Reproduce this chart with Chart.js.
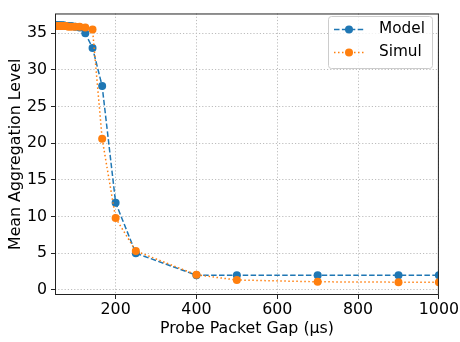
<!DOCTYPE html>
<html>
<head>
<meta charset="utf-8">
<script src="https://cdn.jsdelivr.net/npm/chart.js@4.4.0/dist/chart.umd.min.js"></script>
<style>
  html, body { margin: 0; padding: 0; background: #fff; }
  #wrap { width: 460px; height: 342px; }
</style>
</head>
<body>
<div id="wrap"><canvas id="chart" width="460" height="342"></canvas></div>
<script>
// probe gaps in microseconds
const gaps = [50, 52.6, 55.6, 58.8, 62.5, 66.7, 71.4, 76.9, 83.3, 90.9, 100, 111.1, 125, 142.9, 166.7, 200, 250, 400, 500, 700, 900, 1000];
const model = [36.1, 36.1, 36.1, 36.1, 36.1, 36.1, 36.1, 36.0, 36.0, 36.0, 35.9, 35.8, 35.0, 33.0, 27.8, 11.9, 5.0, 2.0, 2.0, 2.0, 2.0, 2.0];
const simul = [36.0, 36.0, 36.0, 36.0, 36.0, 36.0, 36.0, 36.0, 35.9, 35.9, 35.9, 35.9, 35.8, 35.5, 20.6, 9.8, 5.3, 2.05, 1.35, 1.1, 1.05, 1.05];
const xTicks = [200, 400, 600, 800, 1000];
const yTicks = [0, 5, 10, 15, 20, 25, 30, 35];

const BLUE = '#1f77b4';
const ORANGE = '#ff7f0e';
const FONT = 'DejaVu Sans';
const FS = 15.8;

const toPoints = (ys) => gaps.map((g, i) => ({ x: g, y: ys[i] }));

// frame around the plot area + matplotlib style legend
const framePlugin = {
    id: 'frame',
    afterDraw(chart) {
        const { ctx, chartArea: a } = chart;
        ctx.save();
        ctx.strokeStyle = '#222';
        ctx.lineWidth = 1;
        ctx.strokeRect(a.left + 0.5, a.top + 0.5, a.right - a.left - 1, a.bottom - a.top - 1);

        // legend box
        const bx = 328.5, by = 16.5, bw = 104, bh = 52, r = 3;
        ctx.beginPath();
        ctx.moveTo(bx + r, by);
        ctx.arcTo(bx + bw, by, bx + bw, by + bh, r);
        ctx.arcTo(bx + bw, by + bh, bx, by + bh, r);
        ctx.arcTo(bx, by + bh, bx, by, r);
        ctx.arcTo(bx, by, bx + bw, by, r);
        ctx.closePath();
        ctx.fillStyle = 'rgba(255,255,255,0.8)';
        ctx.fill();
        ctx.strokeStyle = '#cccccc';
        ctx.stroke();

        const entries = [
            { label: 'Model', color: BLUE, dash: [5.5, 2.4], y: 29.5 },
            { label: 'Simul', color: ORANGE, dash: [1.5, 2.5], y: 52.5 }
        ];
        entries.forEach(e => {
            ctx.strokeStyle = e.color;
            ctx.lineWidth = 1.5;
            ctx.setLineDash(e.dash);
            ctx.beginPath();
            ctx.moveTo(334, e.y);
            ctx.lineTo(364, e.y);
            ctx.stroke();
            ctx.setLineDash([]);
            ctx.fillStyle = e.color;
            ctx.beginPath();
            ctx.arc(349, e.y, 4, 0, Math.PI * 2);
            ctx.fill();
            ctx.fillStyle = '#000';
            ctx.font = '15.3px "' + FONT + '"';
            ctx.textBaseline = 'middle';
            ctx.textAlign = 'left';
            ctx.fillText(e.label, 379, e.y);
        });
        ctx.restore();
    }
};

const gridCommon = {
    color: '#bdbdbd',
    lineWidth: 1,
    drawTicks: true,
    tickLength: 4,
    tickColor: '#222',
    tickBorderDash: [4, 0],
    tickWidth: 1
};

new Chart(document.getElementById('chart'), {
    type: 'line',
    data: {
        datasets: [
            {
                label: 'Simul',
                data: toPoints(simul),
                borderColor: ORANGE,
                backgroundColor: ORANGE,
                borderWidth: 1.5,
                borderDash: [1.5, 2.5],
                pointRadius: 4,
                pointBorderWidth: 0,
                pointHoverRadius: 4,
                tension: 0,
                order: 1
            },
            {
                label: 'Model',
                data: toPoints(model),
                borderColor: BLUE,
                backgroundColor: BLUE,
                borderWidth: 1.5,
                borderDash: [5.5, 2.4],
                pointRadius: 4,
                pointBorderWidth: 0,
                pointHoverRadius: 4,
                tension: 0,
                order: 2
            }
        ]
    },
    options: {
        responsive: false,
        animation: false,
        devicePixelRatio: 1,
        layout: { padding: { top: 9, right: 20, left: 0, bottom: 0 } },
        plugins: { legend: { display: false }, tooltip: { enabled: false } },
        scales: {
            x: {
                type: 'linear',
                min: 50,
                max: 1000,
                afterBuildTicks: (s) => { s.ticks = xTicks.map(v => ({ value: v })); },
                afterFit: (s) => { s.height = 47; },
                grid: gridCommon,
                border: { display: false, dash: [1.2, 2] },
                ticks: { color: '#000', font: { family: FONT, size: FS }, padding: 1, maxRotation: 0, callback: (v) => String(v) },
                title: {
                    display: true,
                    text: 'Probe Packet Gap (μs)',
                    color: '#000',
                    font: { family: FONT, size: FS },
                    padding: { top: 0, bottom: 4 }
                }
            },
            y: {
                min: -0.7,
                max: 37.7,
                afterBuildTicks: (s) => { s.ticks = yTicks.map(v => ({ value: v })); },
                afterFit: (s) => { s.width = 55; },
                grid: gridCommon,
                border: { display: false, dash: [1.2, 2] },
                ticks: { color: '#000', font: { family: FONT, size: FS }, padding: 4, callback: (v) => String(v) },
                title: {
                    display: true,
                    text: 'Mean Aggregation Level',
                    color: '#000',
                    font: { family: FONT, size: FS },
                    padding: { top: 6, bottom: 0 }
                }
            }
        }
    },
    plugins: [framePlugin]
});
</script>
</body>
</html>
